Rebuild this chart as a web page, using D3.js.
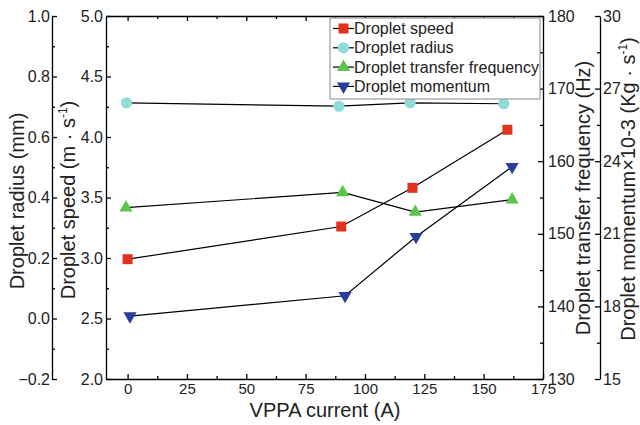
<!DOCTYPE html>
<html>
<head>
<meta charset="utf-8">
<script src="https://cdn.jsdelivr.net/npm/d3@7"></script>
<style>
  body { margin: 0; background: #fff; }
  svg { font-family: "Liberation Sans", Arial, sans-serif; }
  .axis path, .axis line { stroke: #000; stroke-width: 1.3; }
  .axis text { font-size: 16px; fill: #222; font-family: "Liberation Sans", Arial, sans-serif; }
  .xaxis text { font-size: 15px; }
  .title { font-size: 20px; fill: #222; }
</style>
</head>
<body>
<div id="graphic"></div>
<script>
// Data
var xTicks = [0, 25, 50, 75, 100, 125, 150, 175];

var speedX = [0, 90, 120, 160];
var speedY = [2.99, 3.26, 3.58, 4.06];

var radiusX = [-0.5, 89, 119, 158.5];
var radiusY = [0.713, 0.702, 0.713, 0.71];

var freqX = [-0.7, 90.6, 121.2, 162];
var freqY = [153.6, 155.7, 153.0, 154.7];

var momX = [1, 91.6, 121.5, 162];
var momY = [17.6, 18.44, 20.88, 23.77];

var legendLabels = ["Droplet speed", "Droplet radius", "Droplet transfer frequency", "Droplet momentum"];

// Layout
var W = 640, H = 425;
var pLeft = 106, pRight = 543, pTop = 16, pBottom = 379;

var svg = d3.select('#graphic')
    .append('svg')
    .attr('width', W)
    .attr('height', H);

// Scales
var xScale = d3.scaleLinear().domain([-9.1, 175]).range([pLeft, pRight]);
var ySpeed = d3.scaleLinear().domain([2, 5]).range([pBottom, pTop]);
var yRadius = d3.scaleLinear().domain([-0.2, 1.0]).range([pBottom, pTop]);
var yFreq = d3.scaleLinear().domain([130, 180]).range([pBottom, pTop]);
var yMom = d3.scaleLinear().domain([15, 30]).range([pBottom, pTop]);

function minors(majors, step) {
    return majors.slice(0, -1).map(function (d) { return d + step / 2; });
}

// draw one axis: majors + minors, ticks pointing inward
function drawAxis(axisFn, scale, pos, majors, step, fmt, padding) {
    var g = svg.append('g')
        .attr('class', 'axis')
        .attr('transform', pos);
    g.call(axisFn(scale)
        .tickValues(majors)
        .tickSizeInner(-5)
        .tickSizeOuter(0)
        .tickPadding(padding)
        .tickFormat(fmt));
    g.append('g').call(axisFn(scale)
        .tickValues(minors(majors, step))
        .tickSizeInner(-3)
        .tickSizeOuter(0)
        .tickFormat(''))
        .select('.domain').remove();
    return g;
}

// x axis bottom
drawAxis(d3.axisBottom, xScale, 'translate(0,' + pBottom + ')', xTicks, 25, d3.format('d'), 4)
    .classed('xaxis', true);
// top frame
var topAx = drawAxis(d3.axisTop, xScale, 'translate(0,' + pTop + ')', xTicks, 25, d3.format('d'), 0);
topAx.selectAll('text').remove();

// left axes
drawAxis(d3.axisLeft, ySpeed, 'translate(' + pLeft + ',0)', d3.range(2, 5.01, 0.5), 0.5, d3.format('.1f'), 3);
drawAxis(d3.axisLeft, yRadius, 'translate(52,0)', [-0.2, 0, 0.2, 0.4, 0.6, 0.8, 1.0], 0.2, d3.format('.1f'), 2);

// right axes
drawAxis(d3.axisRight, yFreq, 'translate(' + pRight + ',0)', d3.range(130, 181, 10), 10, d3.format('d'), 5);
drawAxis(d3.axisRight, yMom, 'translate(600,0)', d3.range(15, 31, 3), 3, d3.format('d'), 3);

// Axis titles
svg.append('text').attr('class', 'title')
    .attr('x', 325).attr('y', 417)
    .attr('text-anchor', 'middle')
    .text('VPPA current (A)');

svg.append('text').attr('class', 'title')
    .attr('transform', 'translate(24,201) rotate(-90)')
    .attr('text-anchor', 'middle')
    .text('Droplet radius (mm)');

var sp = svg.append('text').attr('class', 'title')
    .attr('transform', 'translate(75,200) rotate(-90)')
    .attr('text-anchor', 'middle');
sp.append('tspan').text('Droplet speed (m · s');
sp.append('tspan').attr('dy', -8).attr('font-size', '12px').text('-1');
sp.append('tspan').attr('dy', 8).text(')');

svg.append('text').attr('class', 'title')
    .attr('transform', 'translate(590,198) rotate(-90)')
    .attr('text-anchor', 'middle')
    .text('Droplet transfer frequency (Hz)');

var mm = svg.append('text').attr('class', 'title')
    .attr('transform', 'translate(635,189) rotate(-90)')
    .attr('text-anchor', 'middle');
mm.append('tspan').text('Droplet momentum×10-3 (Kg · s');
mm.append('tspan').attr('dy', -8).attr('font-size', '12px').text('-1');
mm.append('tspan').attr('dy', 8).text(')');

// Series
var series = [
    {xs: speedX, ys: speedY, y: ySpeed, type: d3.symbolSquare, size: 100, rot: 0, color: '#e2311d'},
    {xs: radiusX, ys: radiusY, y: yRadius, type: d3.symbolCircle, size: 100, rot: 0, color: '#8fdcd8'},
    {xs: freqX, ys: freqY, y: yFreq, type: d3.symbolTriangle, size: 75, rot: 0, color: '#5ac54a'},
    {xs: momX, ys: momY, y: yMom, type: d3.symbolTriangle, size: 75, rot: 180, color: '#2b3e9e'}
];

series.forEach(function (s) {
    var pts = s.xs.map(function (x, i) { return [x, s.ys[i]]; });
    svg.append('path')
        .datum(pts)
        .attr('fill', 'none')
        .attr('stroke', '#000')
        .attr('stroke-width', 1.2)
        .attr('d', d3.line()
            .x(function (d) { return xScale(d[0]); })
            .y(function (d) { return s.y(d[1]); }));
    svg.selectAll(null)
        .data(pts)
        .enter()
        .append('path')
        .attr('d', d3.symbol().type(s.type).size(s.size))
        .attr('transform', function (d) {
            return 'translate(' + xScale(d[0]) + ',' + s.y(d[1]) + ') rotate(' + s.rot + ')';
        })
        .attr('fill', s.color);
});

// Legend
var lg = svg.append('g').attr('transform', 'translate(330,18)');
lg.append('rect')
    .attr('width', 210).attr('height', 81)
    .attr('fill', '#fff')
    .attr('stroke', '#888')
    .attr('stroke-width', 1);

series.forEach(function (s, i) {
    var yy = 10.5 + i * 19.3;
    lg.append('line')
        .attr('x1', 3).attr('x2', 24)
        .attr('y1', yy).attr('y2', yy)
        .attr('stroke', '#000').attr('stroke-width', 1.2);
    lg.append('path')
        .attr('d', d3.symbol().type(s.type).size(s.size))
        .attr('transform', 'translate(13.5,' + yy + ') rotate(' + s.rot + ')')
        .attr('fill', s.color);
    lg.append('text')
        .attr('x', 24).attr('y', yy + 5.5)
        .attr('font-size', '16px')
        .attr('fill', '#222')
        .text(legendLabels[i]);
});
</script>
</body>
</html>
